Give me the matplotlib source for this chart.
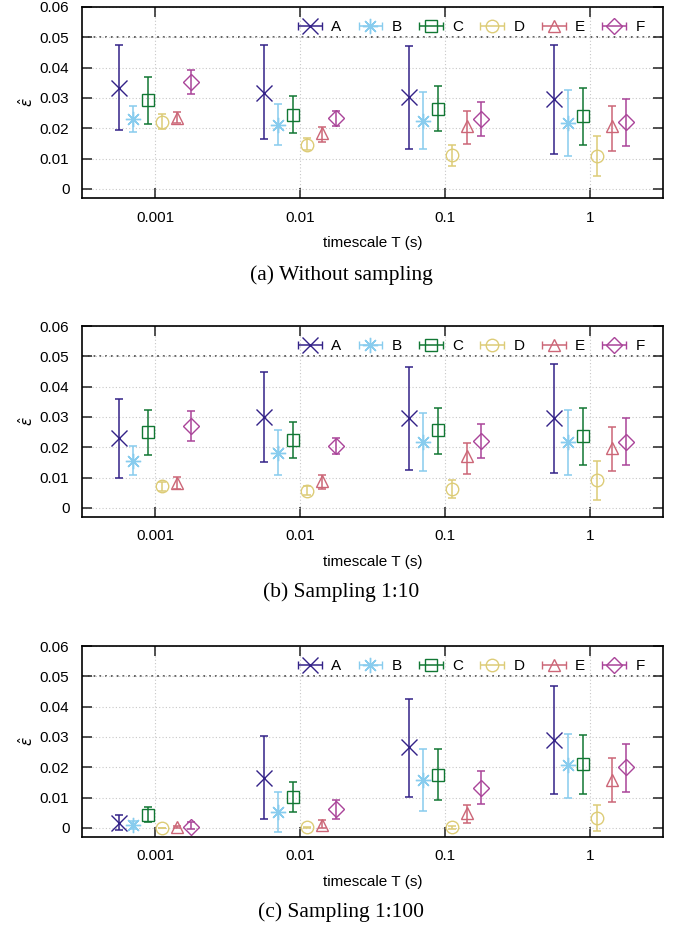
import numpy as np
import matplotlib
matplotlib.use("Agg")
import matplotlib.pyplot as plt
from matplotlib.container import ErrorbarContainer
from matplotlib.legend_handler import HandlerErrorbar

plt.rcParams['font.family'] = ['Liberation Sans', 'DejaVu Sans']
plt.rcParams['mathtext.fontset'] = 'dejavusans'

timescales = [0.001, 0.01, 0.1, 1]
tick_labels = ['0.001', '0.01', '0.1', '1']
series = ['A', 'B', 'C', 'D', 'E', 'F']
captions = ['(a) Without sampling', '(b) Sampling 1:10', '(c) Sampling 1:100']

# rows = series A..F, columns = timescale 0.001, 0.01, 0.1, 1 (values x 0.01)
nosamp_val = [[3.33, 3.16, 3.02, 2.98],
              [2.32, 2.12, 2.23, 2.18],
              [2.93, 2.45, 2.65, 2.40],
              [2.21, 1.44, 1.13, 1.08],
              [2.34, 1.85, 2.07, 2.07],
              [3.53, 2.33, 2.32, 2.20]]
nosamp_lo = [[1.93, 1.65, 1.30, 1.16],
             [1.87, 1.45, 1.30, 1.10],
             [2.14, 1.85, 1.90, 1.45],
             [1.96, 1.28, 0.77, 0.44],
             [2.18, 1.55, 1.49, 1.26],
             [3.13, 2.07, 1.74, 1.43]]
nosamp_hi = [[4.76, 4.74, 4.70, 4.76],
             [2.73, 2.80, 3.20, 3.25],
             [3.68, 3.05, 3.38, 3.33],
             [2.46, 1.68, 1.46, 1.74],
             [2.53, 2.05, 2.58, 2.75],
             [3.93, 2.56, 2.86, 2.97]]

s10_val = [[2.29, 3.00, 2.97, 2.97],
           [1.54, 1.81, 2.18, 2.16],
           [2.49, 2.25, 2.56, 2.36],
           [0.71, 0.57, 0.63, 0.91],
           [0.82, 0.88, 1.70, 1.98],
           [2.69, 2.03, 2.20, 2.18]]
s10_lo = [[0.97, 1.52, 1.26, 1.15],
          [1.07, 1.07, 1.21, 1.08],
          [1.75, 1.65, 1.79, 1.41],
          [0.55, 0.43, 0.33, 0.27],
          [0.63, 0.64, 1.13, 1.21],
          [2.20, 1.77, 1.63, 1.40]]
s10_hi = [[3.59, 4.48, 4.65, 4.75],
          [2.03, 2.56, 3.13, 3.24],
          [3.22, 2.84, 3.29, 3.30],
          [0.87, 0.71, 0.91, 1.54],
          [1.01, 1.07, 2.14, 2.67],
          [3.21, 2.30, 2.76, 2.96]]

s100_val = [[0.16, 1.66, 2.67, 2.89],
            [0.09, 0.53, 1.59, 2.07],
            [0.44, 1.02, 1.74, 2.12],
            [0.00, 0.02, 0.02, 0.33],
            [0.03, 0.11, 0.49, 1.59],
            [0.03, 0.62, 1.32, 2.01]]
s100_lo = [[-0.08, 0.31, 1.02, 1.11],
           [-0.02, -0.12, 0.56, 1.00],
           [0.18, 0.51, 0.91, 1.12],
           [-0.01, 0.00, -0.02, -0.10],
           [0.00, 0.00, 0.16, 0.85],
           [-0.05, 0.31, 0.78, 1.20]]
s100_hi = [[0.42, 3.03, 4.26, 4.69],
           [0.23, 1.19, 2.60, 3.10],
           [0.69, 1.51, 2.60, 3.08],
           [0.01, 0.04, 0.06, 0.77],
           [0.06, 0.25, 0.75, 2.31],
           [0.20, 0.92, 1.87, 2.77]]

panels = [(nosamp_val, nosamp_lo, nosamp_hi),
          (s10_val, s10_lo, s10_hi),
          (s100_val, s100_lo, s100_hi)]

colors = ['#332288', '#88CCEE', '#117733', '#DDCC77', '#CC6677', '#AA4499']
markers = ['x', (8, 2, 0), 's', 'o', '^', 'D']
msizes = [11, 11, 9, 9, 9, 8]
offsets = [-0.25, -0.15, -0.05, 0.05, 0.15, 0.25]

fig = plt.figure(figsize=(6.83, 9.31), dpi=100)
tops = [7, 326, 646]
cap_y = [275, 592, 912]

for p, (val, lo, hi) in enumerate(panels):
    top = tops[p]
    ax = fig.add_axes([82 / 683, 1 - (top + 191) / 931, 581 / 683, 191 / 931])
    ax.set_xscale('log')
    ax.set_xlim(10 ** -3.503, 10 ** 0.503)
    ax.set_ylim(-0.003, 0.06)
    ax.grid(True, color='#c8c8c8', linestyle=(0, (1, 2)), linewidth=0.8)
    ax.axhline(0.05, color='#555555', linestyle=(0, (1, 2.2)), linewidth=1.3, zorder=1)

    for i, name in enumerate(series):
        x = np.array(timescales) * 10 ** offsets[i]
        y = np.array(val[i]) / 100
        ylo = y - np.array(lo[i]) / 100
        yhi = np.array(hi[i]) / 100 - y
        ax.errorbar(x, y, yerr=[ylo, yhi], fmt='none', ecolor=colors[i],
                    elinewidth=1.1, capsize=3, capthick=1.1, zorder=3)
        ax.plot(x, y, linestyle='none', marker=markers[i], ms=msizes[i],
                mec=colors[i], mfc='none', mew=1.0, zorder=4)

    # legend samples drawn as horizontal error bars like gnuplot
    handles = []
    for i, name in enumerate(series):
        h = ax.errorbar([np.nan], [np.nan], xerr=[[1], [1]], linestyle='none',
                        marker=markers[i], ms=msizes[i], mec=colors[i], mfc='none',
                        mew=1.0, ecolor=colors[i], elinewidth=1.1, capsize=3,
                        capthick=1.1, label=name)
        handles.append(h)
    ax.legend(handles=handles, loc='upper right', ncol=6, frameon=False,
              fontsize=11, numpoints=1, handlelength=1.6, handletextpad=0.6,
              columnspacing=1.1, borderpad=0, borderaxespad=0,
              bbox_to_anchor=(1 - 18 / 581, 1 - 13 / 191),
              handler_map={ErrorbarContainer: HandlerErrorbar(xerr_size=0.78)})

    ax.set_xticks(timescales)
    ax.set_xticklabels(tick_labels)
    ax.xaxis.set_minor_locator(matplotlib.ticker.NullLocator())
    ax.set_yticks([0, 0.01, 0.02, 0.03, 0.04, 0.05, 0.06])
    ax.set_yticklabels(['0', '0.01', '0.02', '0.03', '0.04', '0.05', '0.06'])
    ax.tick_params(direction='in', length=7, width=1.2, color='#333333',
                   top=True, right=True, labelsize=11, pad=9)
    for sp in ax.spines.values():
        sp.set_linewidth(1.2)
    ax.set_xlabel('timescale T (s)', fontsize=11, labelpad=8)
    ax.set_ylabel(r'$\hat{\varepsilon}$', fontsize=11, labelpad=3)

    fig.text(0.5, 1 - cap_y[p] / 931, captions[p], ha='center', va='center',
             fontsize=15.5, family=['Liberation Serif', 'DejaVu Serif'])

fig.savefig('out.png', dpi=100)
